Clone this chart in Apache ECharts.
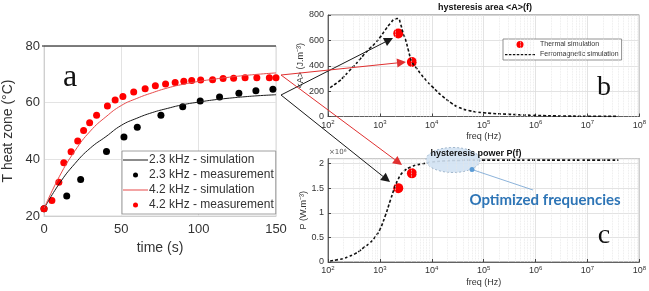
<!DOCTYPE html>
<html>
<head>
<meta charset="utf-8">
<script src="https://cdn.jsdelivr.net/npm/echarts@6/dist/echarts.min.js"></script>
<style>
  html, body { margin: 0; padding: 0; background: #fff; }
  #chart { width: 649px; height: 291px; }
</style>
</head>
<body>
<div id="chart"></div>
<script>
// ---- panel a : temperature of heat zone vs time ----
const simTime = [0, 10, 20, 30, 40, 50, 60, 70, 80, 90, 100, 110, 120, 130, 140, 150];
const sim23 = [22.6, 31.5, 38.5, 44, 48, 52, 54.5, 56.5, 58, 59.3, 60.2, 61, 61.6, 62.1, 62.5, 62.8];
const sim42 = [22.6, 34, 43, 50, 55, 59, 61.5, 63.5, 65.2, 66.5, 67.5, 68.3, 69, 69.6, 70.1, 70.5];

const measTime23 = [0, 14.7, 23.7, 40.4, 51.7, 60.3, 75.6, 89.7, 101, 113.5, 126, 137, 148];
const meas23 = [22.6, 27.1, 32.9, 42.8, 47.9, 51.3, 55.6, 58.6, 60.6, 62, 63.3, 64.2, 64.7];

const measTime42 = [0, 5.1, 9.6, 12.8, 17.5, 21.8, 25.6, 29.5, 34, 41, 46, 51, 58, 65.4, 72, 78.6,
  84.8, 90.4, 95.5, 101.3, 109, 115.8, 122.6, 130, 137.6, 145.7, 150];
const meas42 = [22.6, 25.5, 31.9, 38.8, 42.7, 46.5, 50.2, 52.9, 55.6, 58.8, 60.9, 62.2, 63.8, 64.9, 66, 66.6,
  67.1, 67.6, 67.8, 68, 68.1, 68.5, 68.6, 68.8, 68.8, 68.8, 68.8];

// ---- panels b, c : hysteresis area and power vs frequency ----
const freq = [110, 160, 200, 250, 320, 400, 500, 630, 800, 1000, 1260, 1600, 2000, 2250, 2500, 2800,
  3200, 3550, 4140, 5000, 6300, 8000, 1e4, 1.6e4, 2.5e4, 3.2e4, 5e4, 1e5, 3.2e5, 1e6, 3.2e6, 1e7, 4e7];
const areaA = [228, 275, 312, 355, 400, 445, 490, 535, 575, 622, 680, 735, 770, 772, 730, 660,
  590, 520, 430, 385, 330, 280, 239, 160, 100, 75, 48, 30, 17, 9, 4, 2, 1];
// power in 10^6 W.m^-3
const powerP = [0.02, 0.05, 0.07, 0.11, 0.16, 0.22, 0.3, 0.38, 0.5, 0.66, 0.93, 1.26, 1.56, 1.68, 1.77, 1.83,
  1.88, 1.91, 1.94, 1.97, 1.99, 2.01, 2.03, 2.05, 2.06, 2.06, 2.07, 2.07, 2.07, 2.07, 2.07, 2.07, 2.07];

const thermalFreq = [2260, 4140];
const thermalA = [655, 430];
const thermalP = [1.5, 1.8];

const zip = (xs, ys) => xs.map((x, i) => [x, ys[i]]);

// minor log grid lines (2..9 x 10^n)
const minorFreqs = [];
for (let d = 2; d < 8; d++) {
  for (let k = 2; k <= 9; k++) minorFreqs.push(k * Math.pow(10, d));
}

const FONT = 'Liberation Sans';
const TXT = '#333';

// legend icons: thin line / dashed line inside the full icon box
const solidIcon = 'path://M0,0L0,0ZM0,2L25,2L25,3L0,3ZM25,5L25,5Z';
let dashPath = 'path://M0,0L0,0Z';
for (let x = 0; x < 30; x += 4) dashPath += 'M' + x + ',3L' + (x + 2.5) + ',3L' + (x + 2.5) + ',4.3L' + x + ',4.3Z';
dashPath += 'M30,7L30,7Z';

const chart = echarts.init(document.getElementById('chart'));

const decadeLabel = v => '{b|10}{s|' + Math.round(Math.log10(v)) + '}';
const decadeRich = {
  b: { fontSize: 9, color: TXT, fontFamily: FONT, lineHeight: 12 },
  s: { fontSize: 6, color: TXT, fontFamily: FONT, lineHeight: 7, verticalAlign: 'top' }
};

const logAxis = gridIndex => ({
  type: 'log',
  logBase: 10,
  gridIndex,
  min: 100,
  max: 1e8,
  splitNumber: 6,
  name: 'freq (Hz)',
  nameLocation: 'middle',
  nameGap: 16,
  nameTextStyle: { fontSize: 9, color: TXT, fontFamily: FONT },
  axisLine: { lineStyle: { color: '#444', width: 0.8 } },
  axisTick: { inside: true, length: 3, lineStyle: { color: '#444' } },
  axisLabel: { formatter: decadeLabel, rich: decadeRich, margin: 3, showMaxLabel: true },
  splitLine: { show: true, lineStyle: { color: '#dcdcdc', width: 0.8 } }
});

const minorLines = {
  silent: true,
  symbol: 'none',
  label: { show: false },
  lineStyle: { color: '#e6e6e6', type: 'dotted', width: 0.8 },
  data: minorFreqs.map(f => ({ xAxis: f }))
};

// arrow from panel a to the panels b / c
function arrow(x1, y1, x2, y2, color) {
  const ang = Math.atan2(y2 - y1, x2 - x1);
  const L = 9, W = 4.5;
  const bx = x2 - L * Math.cos(ang), by = y2 - L * Math.sin(ang);
  const nx = -Math.sin(ang) * W, ny = Math.cos(ang) * W;
  return [
    { type: 'line', z: 50, shape: { x1, y1, x2: bx, y2: by }, style: { stroke: color, lineWidth: 1 } },
    { type: 'polygon', z: 50, shape: { points: [[x2, y2], [bx + nx, by + ny], [bx - nx, by - ny]] }, style: { fill: color } }
  ];
}

const option = {
  animation: false,
  backgroundColor: '#fff',
  grid: [
    { left: 42, top: 46, width: 234, height: 170, show: true, borderColor: '#d9d9d9', borderWidth: 1 },
    { left: 328, top: 15, width: 314, height: 101.5, show: true, borderColor: '#555', borderWidth: 0.8 },
    { left: 328, top: 158.6, width: 313, height: 103.4, show: true, borderColor: '#555', borderWidth: 0.8 }
  ],
  legend: [
    {
      data: [
        { name: '2.3 kHz - simulation', icon: solidIcon },
        '2.3 kHz - measurement',
        { name: '4.2 kHz - simulation', icon: solidIcon },
        '4.2 kHz - measurement'
      ],
      orient: 'vertical',
      left: 122,
      top: 151,
      itemWidth: 25,
      itemHeight: 5,
      itemGap: 3,
      padding: [3, 2, 3, 1],
      backgroundColor: '#fff',
      borderColor: '#888',
      borderWidth: 0.8,
      textStyle: { fontSize: 12, color: TXT, fontFamily: FONT, padding: [0, 0, 0, -4] }
    },
    {
      data: [
        'Thermal simulation',
        { name: 'Ferromagnetic simulation', icon: dashPath }
      ],
      orient: 'vertical',
      left: 503,
      top: 39,
      itemWidth: 30,
      itemHeight: 7,
      itemGap: 3,
      padding: [2, 3, 2, 2],
      backgroundColor: '#fff',
      borderColor: '#777',
      borderWidth: 0.8,
      textStyle: { fontSize: 7, color: TXT, fontFamily: FONT }
    }
  ],
  xAxis: [
    {
      type: 'value',
      gridIndex: 0,
      min: 0,
      max: 150,
      interval: 50,
      name: 'time (s)',
      nameLocation: 'middle',
      nameGap: 24,
      nameTextStyle: { fontSize: 14, color: TXT, fontFamily: FONT },
      axisLine: { lineStyle: { color: '#cfcfcf' } },
      axisTick: { show: false },
      axisLabel: { fontSize: 13, color: TXT, fontFamily: FONT, margin: 7 },
      splitLine: { show: true, lineStyle: { color: '#e3e3e3' } }
    },
    logAxis(1),
    logAxis(2)
  ],
  yAxis: [
    {
      type: 'value',
      gridIndex: 0,
      min: 20,
      max: 80,
      interval: 20,
      name: 'T heat zone (°C)',
      nameLocation: 'middle',
      nameGap: 29,
      nameTextStyle: { fontSize: 14, color: TXT, fontFamily: FONT },
      axisLine: { show: true, lineStyle: { color: '#cfcfcf' } },
      axisTick: { show: false },
      axisLabel: { fontSize: 13, color: TXT, fontFamily: FONT, margin: 4 },
      splitLine: { show: true, lineStyle: { color: '#e3e3e3' } }
    },
    {
      type: 'value',
      gridIndex: 1,
      min: 0,
      max: 800,
      interval: 200,
      name: '<A> (J.m⁻³)',
      nameLocation: 'middle',
      nameGap: 20,
      nameTextStyle: { fontSize: 9, color: TXT, fontFamily: FONT },
      axisLine: { show: true, lineStyle: { color: '#444', width: 0.8 } },
      axisTick: { show: true, inside: true, length: 3 },
      axisLabel: { fontSize: 9, color: TXT, fontFamily: FONT, margin: 4 },
      splitLine: { show: true, lineStyle: { color: '#dcdcdc', width: 0.8 } }
    },
    {
      type: 'value',
      gridIndex: 2,
      min: 0,
      max: 2.1,
      interval: 0.5,
      name: 'P (W.m⁻³)',
      nameLocation: 'middle',
      nameGap: 20,
      nameTextStyle: { fontSize: 9, color: TXT, fontFamily: FONT },
      axisLine: { show: true, lineStyle: { color: '#444', width: 0.8 } },
      axisTick: { show: true, inside: true, length: 3 },
      axisLabel: { fontSize: 9, color: TXT, fontFamily: FONT, margin: 4, showMaxLabel: false },
      splitLine: { show: true, lineStyle: { color: '#dcdcdc', width: 0.8 } }
    }
  ],
  series: [
    {
      name: '2.3 kHz - simulation', type: 'line', xAxisIndex: 0, yAxisIndex: 0,
      data: zip(simTime, sim23), symbol: 'none', smooth: true,
      itemStyle: { color: '#1a1a1a' }, lineStyle: { color: '#1a1a1a', width: 1 }
    },
    {
      name: '2.3 kHz - measurement', type: 'scatter', xAxisIndex: 0, yAxisIndex: 0,
      data: zip(measTime23, meas23), symbolSize: 7, itemStyle: { color: '#000', opacity: 1 }
    },
    {
      name: '4.2 kHz - simulation', type: 'line', xAxisIndex: 0, yAxisIndex: 0,
      data: zip(simTime, sim42), symbol: 'none', smooth: true,
      itemStyle: { color: '#e84a4a' }, lineStyle: { color: '#e84a4a', width: 1 }
    },
    {
      name: '4.2 kHz - measurement', type: 'scatter', xAxisIndex: 0, yAxisIndex: 0,
      data: zip(measTime42, meas42), symbolSize: 7, itemStyle: { color: '#f00', opacity: 1 }
    },
    {
      name: 'Ferromagnetic simulation', type: 'line', xAxisIndex: 1, yAxisIndex: 1,
      data: zip(freq, areaA), symbol: 'none', smooth: true,
      itemStyle: { color: '#111' }, lineStyle: { color: '#111', width: 1.6, type: [3, 2] },
      markLine: minorLines
    },
    {
      name: 'Thermal simulation', type: 'scatter', xAxisIndex: 1, yAxisIndex: 1,
      data: zip(thermalFreq, thermalA), symbolSize: 10, itemStyle: { color: '#f00', opacity: 1 }
    },
    {
      name: 'Ferromagnetic simulation', type: 'line', xAxisIndex: 2, yAxisIndex: 2,
      data: zip(freq, powerP), symbol: 'none', smooth: true,
      itemStyle: { color: '#111' }, lineStyle: { color: '#111', width: 1.6, type: [3, 2] },
      markLine: minorLines
    },
    {
      name: 'Thermal simulation', type: 'scatter', xAxisIndex: 2, yAxisIndex: 2,
      data: zip(thermalFreq, thermalP), symbolSize: 10, itemStyle: { color: '#f00', opacity: 1 }
    }
  ],
  graphic: [
    // top border of panel a
    { type: 'line', z: 10, shape: { x1: 42, y1: 46, x2: 276, y2: 46 }, style: { stroke: '#111', lineWidth: 1 } },
    // panel letters
    { type: 'text', z: 20, x: 70, y: 78, style: { text: 'a', font: '32px "Liberation Serif"', fill: '#111', align: 'center', verticalAlign: 'middle' } },
    { type: 'text', z: 20, x: 604, y: 88, style: { text: 'b', font: '28px "Liberation Serif"', fill: '#111', align: 'center', verticalAlign: 'middle' } },
    { type: 'text', z: 20, x: 604, y: 236, style: { text: 'c', font: '28px "Liberation Serif"', fill: '#111', align: 'center', verticalAlign: 'middle' } },
    // ellipse highlighting optimised frequencies
    {
      type: 'ellipse', z: 5, shape: { cx: 453, cy: 160, rx: 27, ry: 12.5 },
      style: { fill: 'rgba(210,226,243,0.9)', stroke: '#8fa8c2', lineWidth: 0.8, lineDash: [2, 2] }
    },
    // panel titles
    { type: 'text', z: 20, x: 485, y: 8, style: { text: 'hysteresis area <A>(f)', font: 'bold 9px "Liberation Sans"', fill: '#111', align: 'center', verticalAlign: 'middle' } },
    { type: 'text', z: 20, x: 476, y: 154, style: { text: 'hysteresis power P(f)', font: 'bold 9px "Liberation Sans"', fill: '#111', align: 'center', verticalAlign: 'middle' } },
    { type: 'text', z: 20, x: 329, y: 152, style: { text: '×10⁶', font: '7px "DejaVu Sans"', fill: '#555', align: 'left', verticalAlign: 'middle' } },
    // annotation
    { type: 'line', z: 20, shape: { x1: 472, y1: 169.5, x2: 533, y2: 190 }, style: { stroke: '#6f9fd0', lineWidth: 0.8 } },
    { type: 'circle', z: 21, shape: { cx: 472, cy: 169.5, r: 2.5 }, style: { fill: '#5b9bd5' } },
    { type: 'text', z: 20, x: 545, y: 200, style: { text: 'Optimized frequencies', font: 'bold 15px Lato', fill: '#2e75b6', align: 'center', verticalAlign: 'middle' } },
    // arrows
    ...arrow(281, 95, 393, 38, '#1a1a1a'),
    ...arrow(281, 75, 406, 62, '#e03030'),
    ...arrow(281, 95, 390, 182, '#1a1a1a'),
    ...arrow(281, 75, 402, 165, '#e03030')
  ]
};

chart.setOption(option);
</script>
</body>
</html>
